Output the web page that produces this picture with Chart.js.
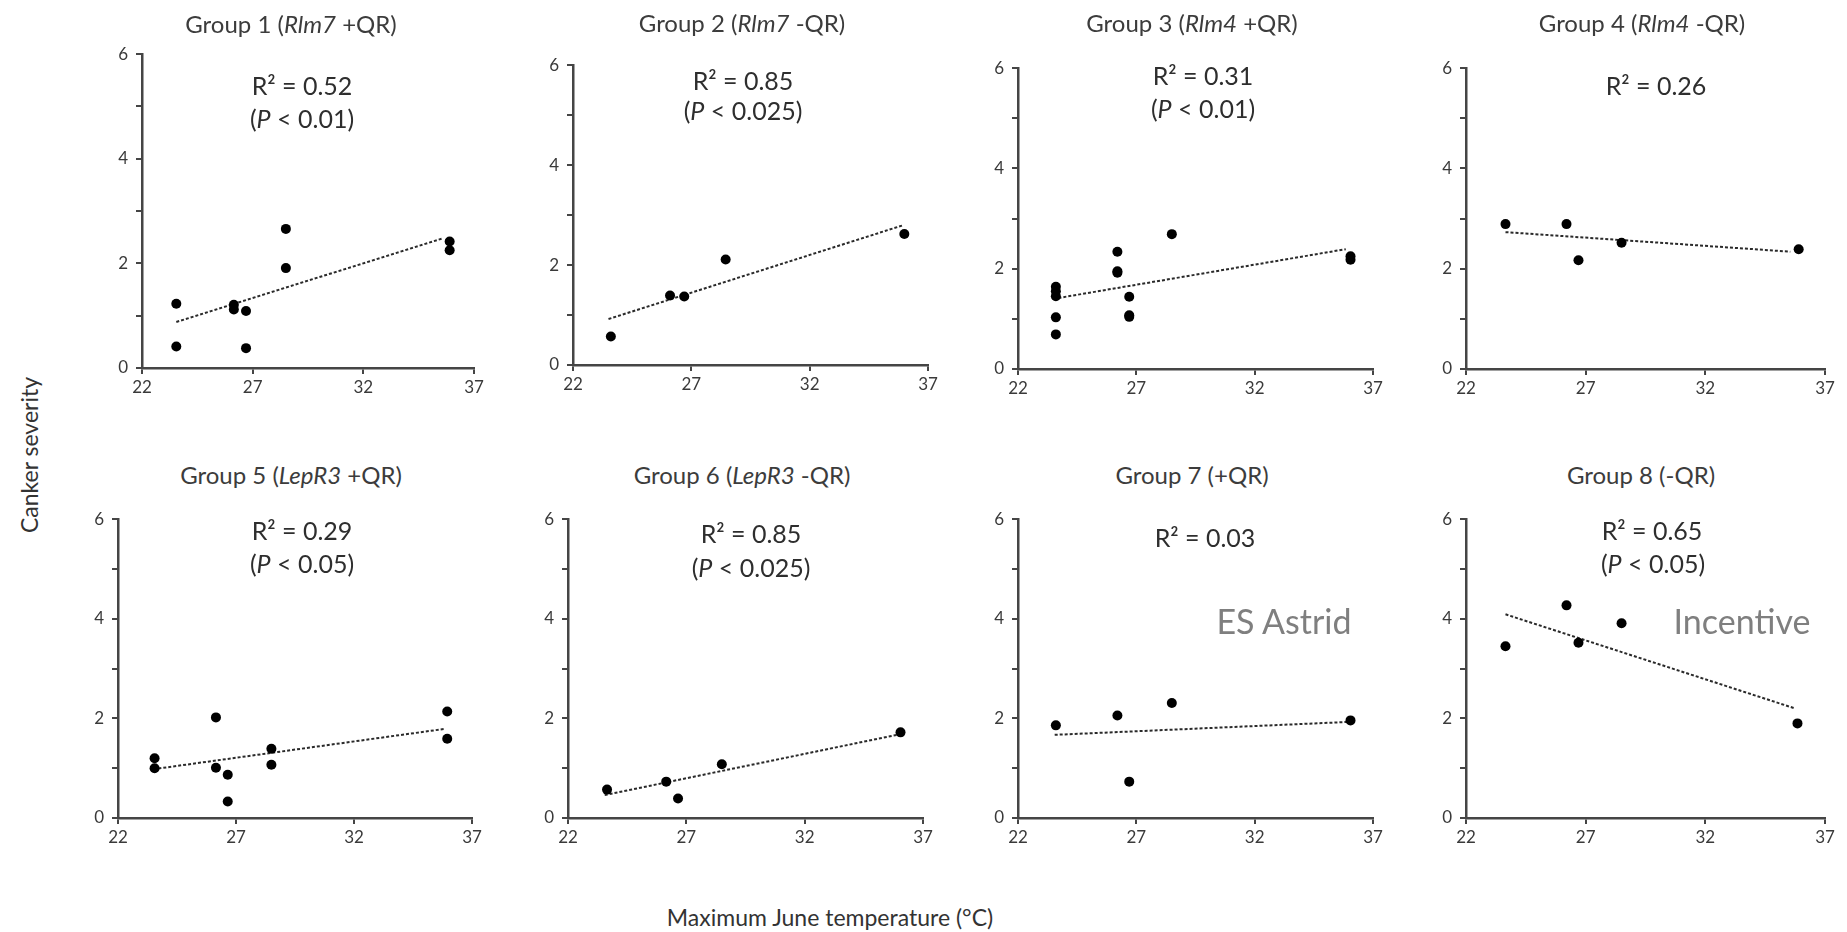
<!DOCTYPE html>
<html>
<head>
<meta charset="utf-8">
<script src="https://cdn.jsdelivr.net/npm/chart.js@4.4.1/dist/chart.umd.min.js"></script>
<style>
  body { margin: 0; background: #fff; width: 1847px; height: 932px; position: relative; overflow: hidden; font-family: Lato, "Open Sans", sans-serif; }
  canvas { position: absolute; }
  .txt { position: absolute; transform: translate(-50%, -50%); white-space: nowrap; color: #3a3a3a; }
  .title { font-size: 24px; color: #3c3c3c; }
  .stat { font-size: 25px; color: #2e2e2e; }
  .note { font-size: 34px; color: #7f7f7f; }
  .axis { font-size: 23px; color: #333; }
</style>
</head>
<body>
<script>
// x = maximum June temperature (°C), y = canker severity
const g1Temp = [23.55, 23.55, 26.15, 26.15, 26.7, 26.7, 28.5, 28.5, 35.9, 35.9];
const g1Sev = [1.23, 0.41, 1.21, 1.12, 1.09, 0.38, 2.66, 1.91, 2.42, 2.25];
const g1TrendX = [23.55, 35.6];
const g1TrendY = [0.88, 2.48];

const g2Temp = [23.6, 26.1, 26.7, 28.45, 36.0];
const g2Sev = [0.57, 1.39, 1.37, 2.11, 2.62];
const g2TrendX = [23.5, 35.9];
const g2TrendY = [0.92, 2.79];

const g3Temp = [23.6, 23.6, 23.6, 23.6, 23.6, 26.2, 26.2, 26.2, 26.7, 26.7, 26.7, 28.5, 36.05, 36.05];
const g3Sev = [1.64, 1.55, 1.45, 1.03, 0.69, 2.34, 1.92, 1.95, 1.44, 1.04, 1.07, 2.69, 2.18, 2.25];
const g3TrendX = [23.5, 35.85];
const g3TrendY = [1.40, 2.39];

const g4Temp = [23.65, 26.2, 26.7, 28.5, 35.9];
const g4Sev = [2.89, 2.89, 2.17, 2.52, 2.39];
const g4TrendX = [23.65, 35.55];
const g4TrendY = [2.73, 2.34];

const g5Temp = [23.55, 23.55, 26.15, 26.15, 26.65, 26.65, 28.5, 28.5, 35.95, 35.95];
const g5Sev = [1.20, 1.00, 2.02, 1.01, 0.87, 0.33, 1.39, 1.07, 2.14, 1.59];
const g5TrendX = [23.5, 35.85];
const g5TrendY = [0.98, 1.79];

const g6Temp = [23.65, 26.15, 26.65, 28.5, 36.05];
const g6Sev = [0.57, 0.73, 0.39, 1.08, 1.72];
const g6TrendX = [23.55, 36.0];
const g6TrendY = [0.46, 1.68];

const g7Temp = [23.6, 26.2, 26.7, 28.5, 36.05];
const g7Sev = [1.86, 2.06, 0.73, 2.31, 1.96];
const g7TrendX = [23.55, 36.0];
const g7TrendY = [1.67, 1.93];

const g8Temp = [23.65, 26.2, 26.7, 28.5, 35.85];
const g8Sev = [3.45, 4.27, 3.52, 3.91, 1.90];
const g8TrendX = [23.65, 35.75];
const g8TrendY = [4.09, 2.20];

const xTicks = [22, 27, 32, 37];
const yTicks = [0, 2, 4, 6];

const titles = [
  'Group 1 (<i>Rlm7</i> +QR)', 'Group 2 (<i>Rlm7</i> -QR)', 'Group 3 (<i>Rlm4</i> +QR)', 'Group 4 (<i>Rlm4</i> -QR)',
  'Group 5 (<i>LepR3</i> +QR)', 'Group 6 (<i>LepR3</i> -QR)', 'Group 7 (+QR)', 'Group 8 (-QR)'
];
const r2Labels = ['0.52', '0.85', '0.31', '0.26', '0.29', '0.85', '0.03', '0.65'];
const pLabels = ['0.01', '0.025', '0.01', null, '0.05', '0.025', null, '0.05'];

const temps = [g1Temp, g2Temp, g3Temp, g4Temp, g5Temp, g6Temp, g7Temp, g8Temp];
const sevs = [g1Sev, g2Sev, g3Sev, g4Sev, g5Sev, g6Sev, g7Sev, g8Sev];
const trendXs = [g1TrendX, g2TrendX, g3TrendX, g4TrendX, g5TrendX, g6TrendX, g7TrendX, g8TrendX];
const trendYs = [g1TrendY, g2TrendY, g3TrendY, g4TrendY, g5TrendY, g6TrendY, g7TrendY, g8TrendY];

// plot area of each panel on the page: left, right, top, bottom
const boxes = [
  [142, 474, 48, 368], [573, 928, 59, 365], [1018, 1373, 62, 369], [1466, 1825, 62, 369],
  [118, 472, 513, 818], [568, 923, 513, 818], [1018, 1373, 513, 818], [1466, 1825, 513, 818]
];
// title centre, R2 centre, P centre
const titlePos = [[291, 23], [742, 22], [1192, 22], [1642, 22], [291, 474], [742, 474], [1192, 474], [1641, 474]];
const r2Pos = [[302, 85], [743, 80], [1203, 75], [1656, 85], [302, 530], [751, 533], [1205, 537], [1652, 530]];
const pPos = [[302, 118], [743, 110], [1203, 108], null, [302, 563], [751, 567], null, [1653, 563]];

const AXW = 45, AXH = 35, PT = 12, PR = 15;
const axisColor = '#454545';
const tickFont = { family: 'Lato, "Open Sans", sans-serif', size: 17 };

function addText(cls, html, x, y, extra) {
  const d = document.createElement('div');
  d.className = 'txt ' + cls;
  d.innerHTML = html;
  d.style.left = x + 'px';
  d.style.top = y + 'px';
  if (extra) d.style.transform = extra;
  document.body.appendChild(d);
}

boxes.forEach((b, i) => {
  const [L, R, T, B] = b;
  const cv = document.createElement('canvas');
  cv.width = (R - L) + AXW + PR;
  cv.height = (B - T) + PT + AXH;
  cv.style.left = (L - AXW) + 'px';
  cv.style.top = (T - PT) + 'px';
  document.body.appendChild(cv);

  new Chart(cv.getContext('2d'), {
    type: 'scatter',
    data: {
      datasets: [{
        data: temps[i].map((t, k) => ({ x: t, y: sevs[i][k] })),
        backgroundColor: '#000',
        borderColor: '#000',
        pointRadius: 5,
        pointBorderWidth: 0
      }, {
        data: trendXs[i].map((t, k) => ({ x: t, y: trendYs[i][k] })),
        showLine: true,
        borderColor: '#2a2a2a',
        borderWidth: 2,
        borderDash: [3, 2],
        pointRadius: 0,
        fill: false
      }]
    },
    options: {
      responsive: false,
      animation: false,
      layout: { padding: { top: PT, right: PR, left: 0, bottom: 0 } },
      plugins: { legend: { display: false }, tooltip: { enabled: false } },
      scales: {
        x: {
          type: 'linear', min: xTicks[0], max: xTicks[xTicks.length - 1],
          afterBuildTicks: s => { s.ticks = xTicks.map(v => ({ value: v })); },
          afterFit: s => { s.height = AXH; },
          ticks: { color: '#3a3a3a', font: tickFont, padding: 3, maxRotation: 0 },
          grid: { drawOnChartArea: false, tickLength: 6, color: axisColor, lineWidth: 2 },
          border: { color: axisColor, width: 2.5 }
        },
        y: {
          min: 0, max: 6,
          ticks: {
            stepSize: 1, color: '#3a3a3a', font: tickFont, padding: 8,
            callback: v => yTicks.includes(v) ? v : ''
          },
          afterFit: s => { s.width = AXW; },
          grid: { drawOnChartArea: false, tickLength: 6, color: axisColor, lineWidth: 2 },
          border: { color: axisColor, width: 2.5 }
        }
      }
    }
  });

  addText('title', titles[i], titlePos[i][0], titlePos[i][1]);
  addText('stat', 'R² = ' + r2Labels[i], r2Pos[i][0], r2Pos[i][1]);
  if (pLabels[i]) addText('stat', '(<i>P</i> &lt; ' + pLabels[i] + ')', pPos[i][0], pPos[i][1]);
});

addText('note', 'ES Astrid', 1284, 620);
addText('note', 'Incentive', 1742, 620);
addText('axis', 'Canker severity', 29, 455, 'translate(-50%, -50%) rotate(-90deg)');
addText('axis', 'Maximum June temperature (°C)', 830, 917);
</script>
</body>
</html>
